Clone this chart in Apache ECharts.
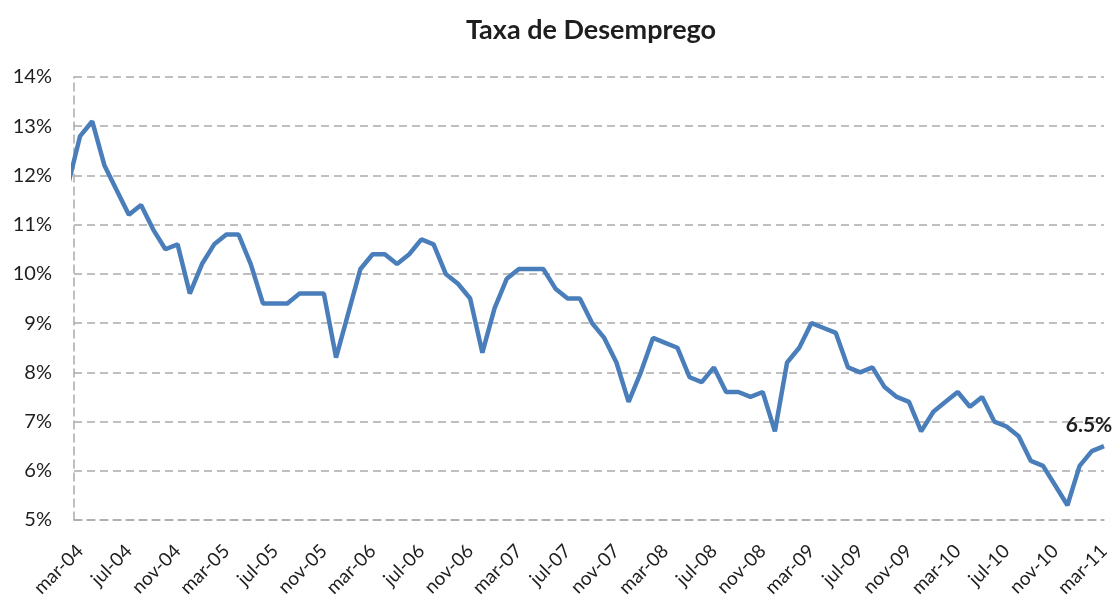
<!DOCTYPE html>
<html>
<head>
<meta charset="utf-8">
<title>Taxa de Desemprego</title>
<script src="https://cdn.jsdelivr.net/npm/echarts@6/dist/echarts.min.js"></script>
<style>
  html, body { margin: 0; padding: 0; background: #fff; }
  #chart { width: 1117px; height: 605px; }
</style>
</head>
<body>
<div id="chart"></div>
<script>
// meses: fev-04 fica cortado na borda esquerda do gráfico
const months = [
  'fev-04', 'mar-04', 'abr-04', 'mai-04', 'jun-04', 'jul-04', 'ago-04', 'set-04', 'out-04', 'nov-04', 'dez-04',
  'jan-05', 'fev-05', 'mar-05', 'abr-05', 'mai-05', 'jun-05', 'jul-05', 'ago-05', 'set-05', 'out-05', 'nov-05', 'dez-05',
  'jan-06', 'fev-06', 'mar-06', 'abr-06', 'mai-06', 'jun-06', 'jul-06', 'ago-06', 'set-06', 'out-06', 'nov-06', 'dez-06',
  'jan-07', 'fev-07', 'mar-07', 'abr-07', 'mai-07', 'jun-07', 'jul-07', 'ago-07', 'set-07', 'out-07', 'nov-07', 'dez-07',
  'jan-08', 'fev-08', 'mar-08', 'abr-08', 'mai-08', 'jun-08', 'jul-08', 'ago-08', 'set-08', 'out-08', 'nov-08', 'dez-08',
  'jan-09', 'fev-09', 'mar-09', 'abr-09', 'mai-09', 'jun-09', 'jul-09', 'ago-09', 'set-09', 'out-09', 'nov-09', 'dez-09',
  'jan-10', 'fev-10', 'mar-10', 'abr-10', 'mai-10', 'jun-10', 'jul-10', 'ago-10', 'set-10', 'out-10', 'nov-10', 'dez-10',
  'jan-11', 'fev-11', 'mar-11'
]

// taxa de desemprego (%)
const rates = [
  11.8, 12.8, 13.1, 12.2, 11.7, 11.2, 11.4, 10.9, 10.5, 10.6, 9.6,
  10.2, 10.6, 10.8, 10.8, 10.2, 9.4, 9.4, 9.4, 9.6, 9.6, 9.6, 8.3,
  9.2, 10.1, 10.4, 10.4, 10.2, 10.4, 10.7, 10.6, 10.0, 9.8, 9.5, 8.4,
  9.3, 9.9, 10.1, 10.1, 10.1, 9.7, 9.5, 9.5, 9.0, 8.7, 8.2, 7.4,
  8.0, 8.7, 8.6, 8.5, 7.9, 7.8, 8.1, 7.6, 7.6, 7.5, 7.6, 6.8,
  8.2, 8.5, 9.0, 8.9, 8.8, 8.1, 8.0, 8.1, 7.7, 7.5, 7.4, 6.8,
  7.2, 7.4, 7.6, 7.3, 7.5, 7.0, 6.9, 6.7, 6.2, 6.1, 5.7, 5.3,
  6.1, 6.4, 6.5
]

// rótulos do eixo x: de 4 em 4 meses a partir de mar-04
const tickLabels = months.filter((m, i) => i >= 1 && (i - 1) % 4 === 0)

const textColor = '#1e1e1e'
const gridLine = { color: '#aaaaaa', width: 1.5, type: [8, 5] }

const lastIdx = rates.length - 1
const seriesData = rates.map((v, i) => {
  if (i === lastIdx) {
    return {
      value: [i - 1, v],
      label: {
        show: true,
        position: 'top',
        distance: 5,
        offset: [-15, -5],
        formatter: p => p.value[1].toFixed(1) + '%',
        fontFamily: 'Lato',
        fontWeight: 'bold',
        fontSize: 21,
        color: textColor
      }
    }
  }
  return [i - 1, v]
})

let chart = echarts.init(document.getElementById('chart'))
let option = {
  animation: false,
  title: {
    text: 'Taxa de Desemprego',
    left: 586,
    top: 12,
    textAlign: 'center',
    textStyle: { fontFamily: 'Lato', fontWeight: 'bold', fontSize: 27, color: textColor }
  },
  grid: { left: 74, right: 13, top: 77, bottom: 85 },
  xAxis: {
    type: 'value',
    min: -0.5,
    max: 84,
    axisLine: { show: true, onZero: false, lineStyle: gridLine },
    axisTick: { show: false },
    splitLine: { show: false },
    axisLabel: {
      customValues: tickLabels.map(m => months.indexOf(m) - 1),
      rotate: 45,
      margin: 28,
      formatter: v => months[v + 1],
      fontFamily: 'Lato',
      fontSize: 19,
      color: textColor
    }
  },
  yAxis: {
    type: 'value',
    min: 5,
    max: 14,
    interval: 1,
    axisLine: { show: true, onZero: false, lineStyle: gridLine },
    axisTick: { show: false },
    splitLine: { show: true, lineStyle: gridLine },
    axisLabel: {
      formatter: '{value}%',
      margin: 22,
      fontFamily: 'Lato',
      fontSize: 20,
      color: textColor
    }
  },
  series: [
    {
      type: 'line',
      data: seriesData,
      symbol: 'circle',
      symbolSize: 0,
      clip: true,
      lineStyle: { color: '#4a7ebb', width: 4.5 },
      itemStyle: { color: '#4a7ebb' }
    }
  ]
}
option && chart.setOption(option)
</script>
</body>
</html>
